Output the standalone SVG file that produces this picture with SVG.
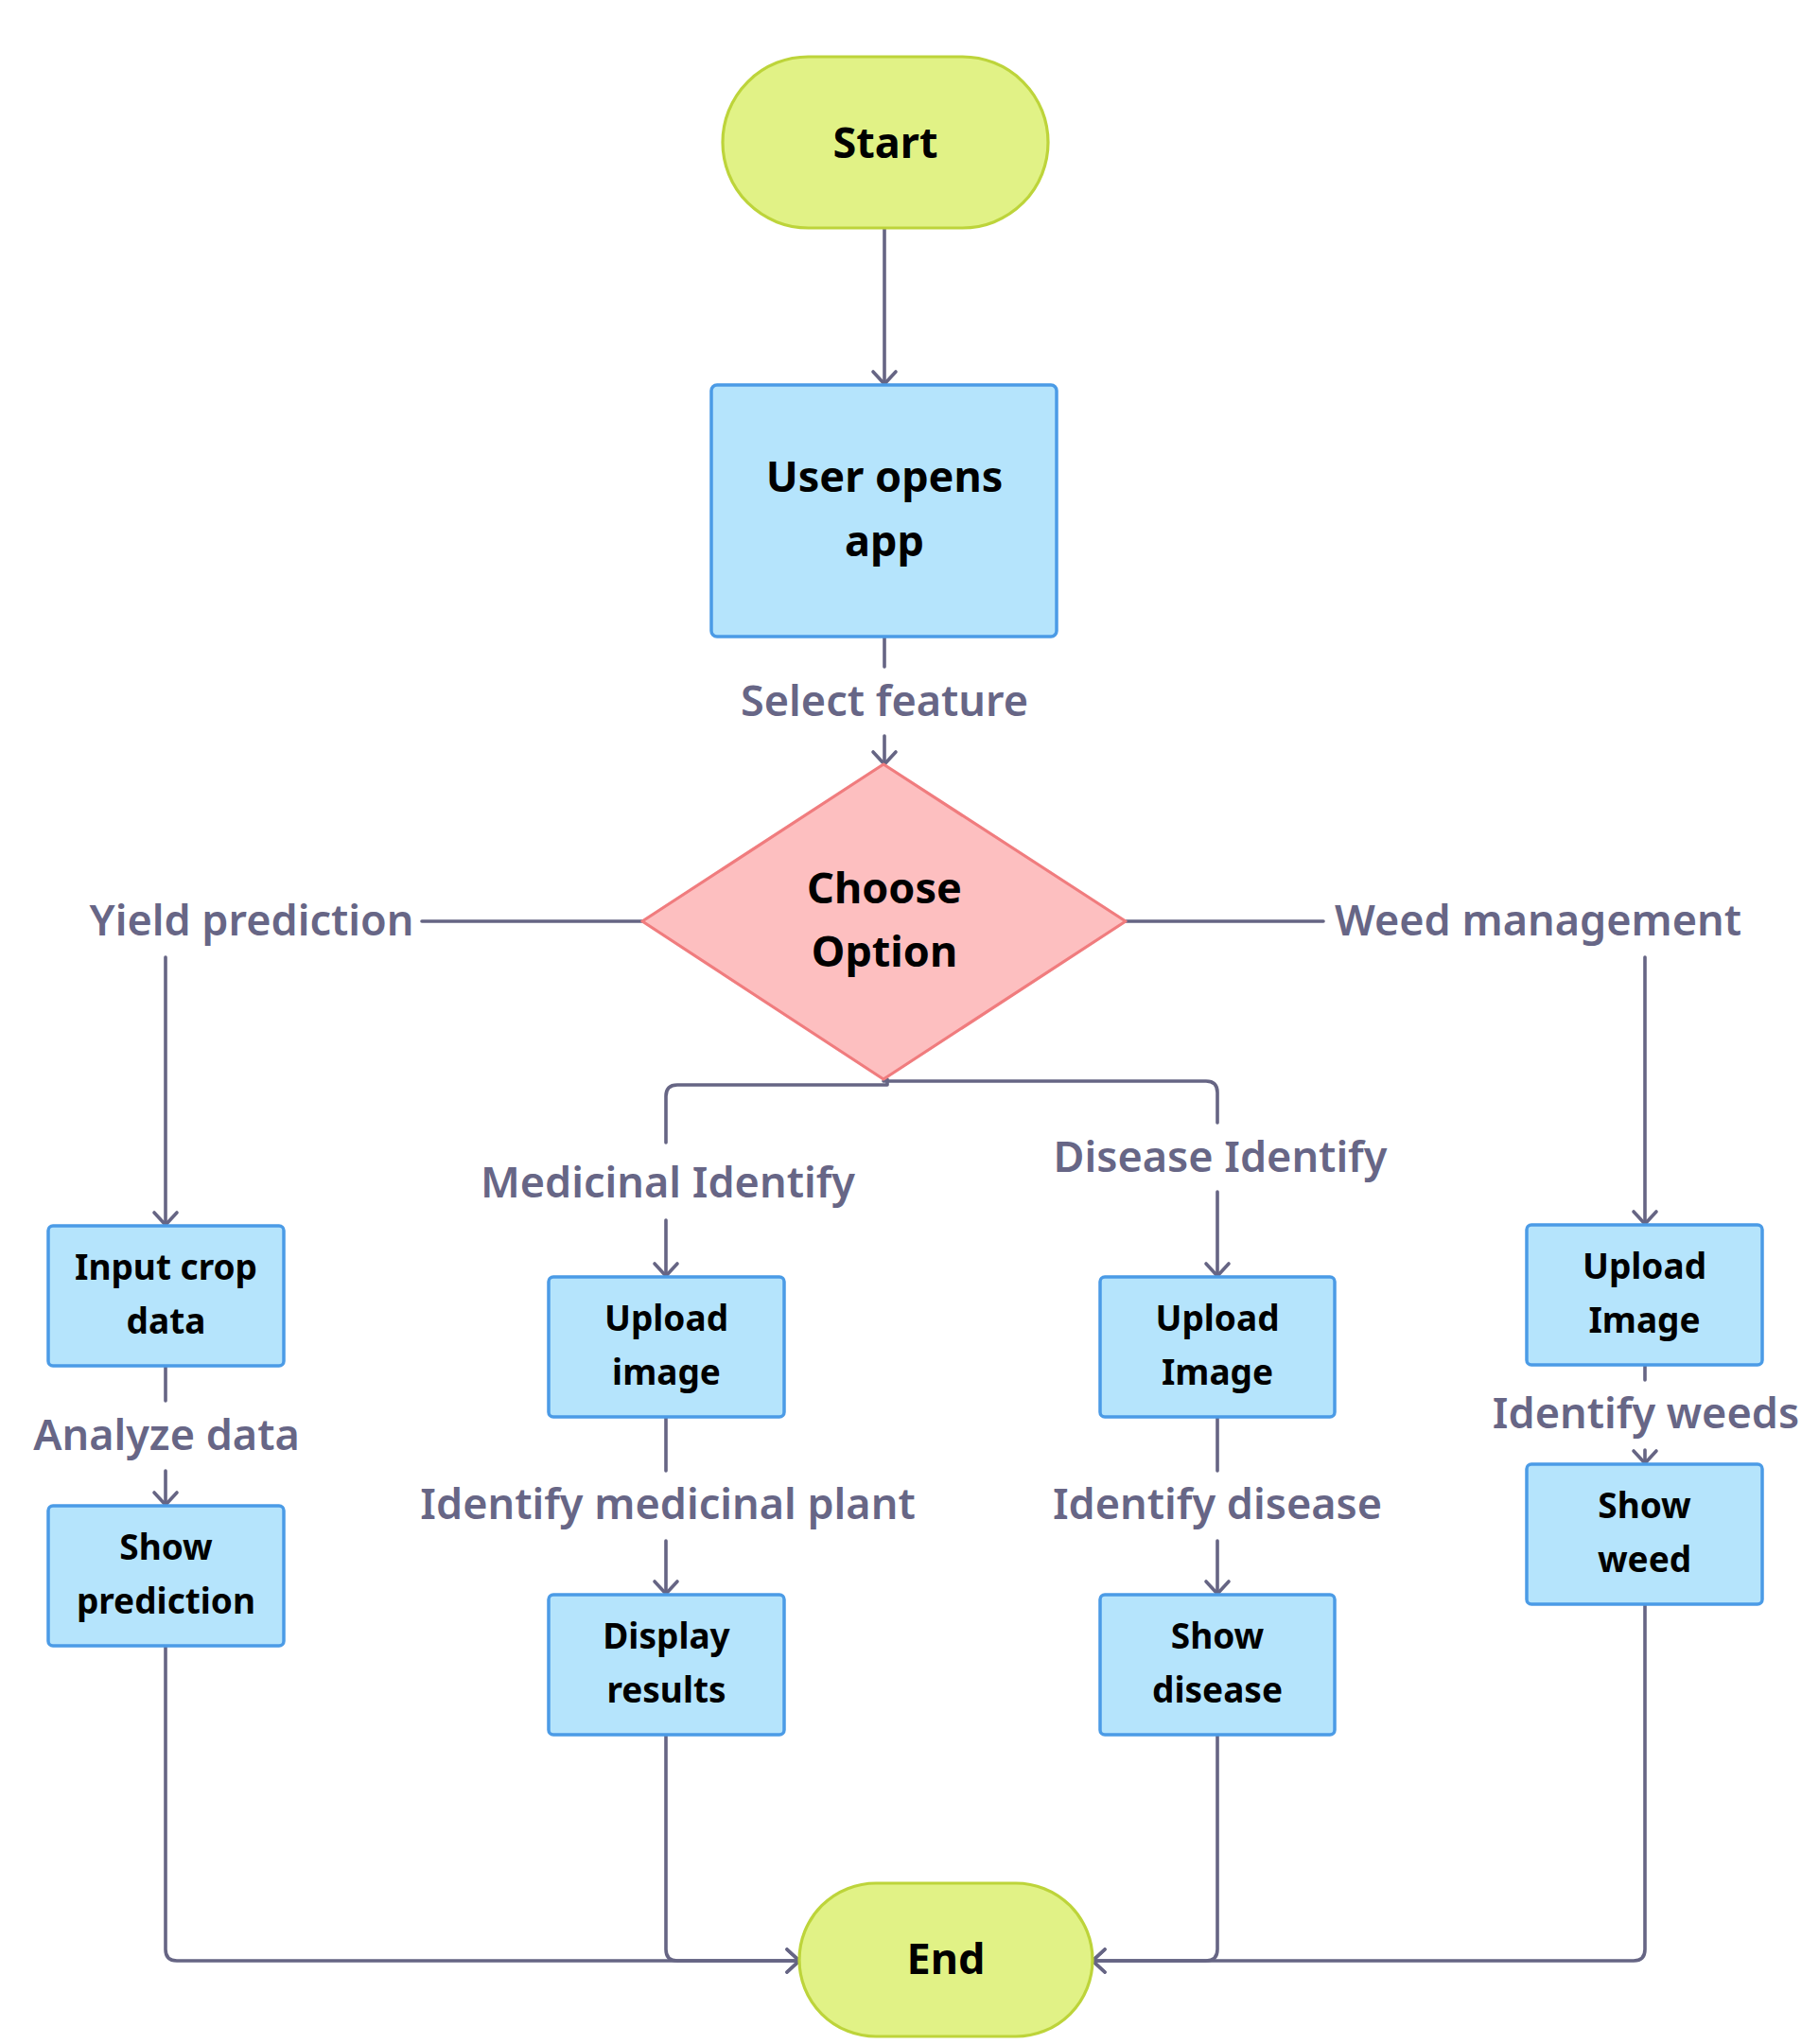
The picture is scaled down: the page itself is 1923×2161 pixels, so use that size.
<svg xmlns="http://www.w3.org/2000/svg" width="1923" height="2161" viewBox="0 0 1923 2161">
<defs>
<style>
.pill{fill:#e1f286;stroke:#bdd43a;stroke-width:3.2}
.box{fill:#b5e4fc;stroke:#4b9be6;stroke-width:3.5}
.dia{fill:#fdbfc0;stroke:#f07c7e;stroke-width:3.2;stroke-linejoin:round}
.t{font-family:"Noto Sans","Open Sans",sans-serif;font-weight:700;fill:#000;text-anchor:middle}
.big{font-size:45px}
.sm{font-size:37px}
.lbl{font-family:"Noto Sans","Open Sans",sans-serif;font-weight:600;font-size:45px;fill:#676686;text-anchor:middle}
.c{fill:none;stroke:#666584;stroke-width:3.6;stroke-linecap:round;stroke-linejoin:round}
</style>
<marker id="ah" markerUnits="userSpaceOnUse" viewBox="-16 -16 20 32" refX="0" refY="0" markerWidth="20" markerHeight="32" orient="auto">
<path d="M-13,-12 L0,0 L-13,12" fill="none" stroke="#666584" stroke-width="3.6" stroke-linecap="round" stroke-linejoin="round"/>
</marker>
</defs>
<rect width="1923" height="2161" fill="#fff"/>
<g id="connectors">
<path class="c" d="M935,242 V406" marker-end="url(#ah)"/>
<path class="c" d="M935,674 V705 M935,778 V808" marker-end="url(#ah)"/>
<path class="c" d="M679,974 H446"/>
<path class="c" d="M175,1012 V1295" marker-end="url(#ah)"/>
<path class="c" d="M1190,974 H1399"/>
<path class="c" d="M1739,1012 V1294" marker-end="url(#ah)"/>
<path class="c" d="M938,1141 V1147 H716 Q704,1147 704,1159 V1208 M704,1290 V1349" marker-end="url(#ah)"/>
<path class="c" d="M934,1143 H1275 Q1287,1143 1287,1155 V1187 M1287,1260 V1349" marker-end="url(#ah)"/>
<path class="c" d="M175,1444 V1481 M175,1555 V1591" marker-end="url(#ah)"/>
<path class="c" d="M704,1498 V1555 M704,1629 V1685" marker-end="url(#ah)"/>
<path class="c" d="M1287,1498 V1555 M1287,1629 V1685" marker-end="url(#ah)"/>
<path class="c" d="M1739,1443 V1459 M1739,1533 V1547" marker-end="url(#ah)"/>
<path class="c" d="M175,1740 V2061 Q175,2073 187,2073 H845" marker-end="url(#ah)"/>
<path class="c" d="M704,1834 V2061 Q704,2073 716,2073 H845" marker-end="url(#ah)"/>
<path class="c" d="M1287,1834 V2061 Q1287,2073 1275,2073 H1155" marker-end="url(#ah)"/>
<path class="c" d="M1739,1696 V2061 Q1739,2073 1727,2073 H1155" marker-end="url(#ah)"/>
</g>
<g id="labels">
<text class="lbl" x="935" y="757">Select feature</text>
<text class="lbl" x="266" y="989">Yield prediction</text>
<text class="lbl" x="1626" y="989">Weed management</text>
<text class="lbl" x="706" y="1266">Medicinal Identify</text>
<text class="lbl" x="1290" y="1239">Disease Identify</text>
<text class="lbl" x="176" y="1533">Analyze data</text>
<text class="lbl" x="706" y="1606">Identify medicinal plant</text>
<text class="lbl" x="1287" y="1606">Identify disease</text>
<text class="lbl" x="1740" y="1510">Identify weeds</text>
</g>
<g id="start">
<rect class="pill" x="764" y="60" width="344" height="181" rx="90.5"/>
<text class="t big" x="936" y="167">Start</text>
</g>
<g id="user-opens-app">
<rect class="box" x="752" y="407" width="365" height="266" rx="6"/>
<text class="t big" x="935" y="520">User opens</text>
<text class="t big" x="935" y="588">app</text>
</g>
<g id="choose-option">
<path class="dia" d="M934,808 L1190,974 L934,1141 L679,974 Z"/>
<text class="t big" x="935" y="955">Choose</text>
<text class="t big" x="935" y="1022">Option</text>
</g>
<g id="input-crop-data">
<rect class="box" x="51" y="1296" width="249" height="148" rx="5"/>
<text class="t sm" x="175.5" y="1353">Input crop</text>
<text class="t sm" x="175.5" y="1410">data</text>
</g>
<g id="show-prediction">
<rect class="box" x="51" y="1592" width="249" height="148" rx="5"/>
<text class="t sm" x="175.5" y="1649">Show</text>
<text class="t sm" x="175.5" y="1706">prediction</text>
</g>
<g id="upload-image-med">
<rect class="box" x="580" y="1350" width="249" height="148" rx="5"/>
<text class="t sm" x="704.5" y="1407">Upload</text>
<text class="t sm" x="704.5" y="1464">image</text>
</g>
<g id="display-results">
<rect class="box" x="580" y="1686" width="249" height="148" rx="5"/>
<text class="t sm" x="704.5" y="1743">Display</text>
<text class="t sm" x="704.5" y="1800">results</text>
</g>
<g id="upload-image-dis">
<rect class="box" x="1163" y="1350" width="248" height="148" rx="5"/>
<text class="t sm" x="1287" y="1407">Upload</text>
<text class="t sm" x="1287" y="1464">Image</text>
</g>
<g id="show-disease">
<rect class="box" x="1163" y="1686" width="248" height="148" rx="5"/>
<text class="t sm" x="1287" y="1743">Show</text>
<text class="t sm" x="1287" y="1800">disease</text>
</g>
<g id="upload-image-weed">
<rect class="box" x="1614" y="1295" width="249" height="148" rx="5"/>
<text class="t sm" x="1738.5" y="1352">Upload</text>
<text class="t sm" x="1738.5" y="1409">Image</text>
</g>
<g id="show-weed">
<rect class="box" x="1614" y="1548" width="249" height="148" rx="5"/>
<text class="t sm" x="1738.5" y="1605">Show</text>
<text class="t sm" x="1738.5" y="1662">weed</text>
</g>
<g id="end">
<rect class="pill" x="845" y="1991" width="310" height="162" rx="81"/>
<text class="t big" x="1000" y="2087">End</text>
</g>
</svg>
